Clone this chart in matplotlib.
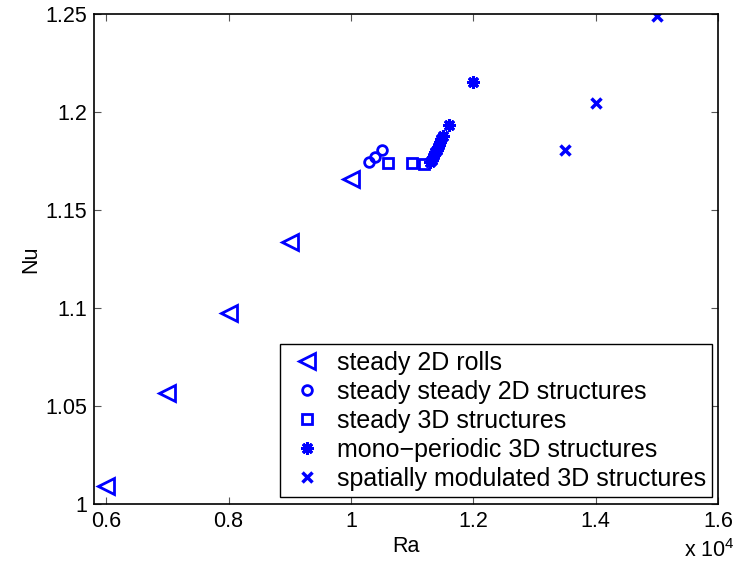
import numpy as np
import matplotlib.pyplot as plt

plt.rcParams['font.family'] = ['Liberation Sans', 'DejaVu Sans']
plt.rcParams['mathtext.fontset'] = 'custom'
plt.rcParams['mathtext.rm'] = 'Liberation Sans'

# Nusselt number vs Rayleigh number for each flow regime
ra_rolls = [6000, 7000, 8000, 9000, 10000]
nu_rolls = [1.009, 1.0565, 1.0976, 1.1335, 1.1657]

ra_2d = [10300, 10400, 10500]
nu_2d = [1.1746, 1.1772, 1.1806]

ra_3d = [10600, 11000, 11200]
nu_3d = [1.1741, 1.1741, 1.1733]

ra_mono = [11300, 11320, 11340, 11360, 11380, 11400, 11420, 11440, 11460, 11480, 11500, 11600, 12000]
nu_mono = [1.1745, 1.1757, 1.1769, 1.1781, 1.1794, 1.1807, 1.1820, 1.1834, 1.1848, 1.1862, 1.1876, 1.1934, 1.2155]

ra_mod = [13500, 14000, 15000]
nu_mod = [1.1806, 1.2047, 1.2490]

labels = ['steady 2D rolls', 'steady steady 2D structures', 'steady 3D structures',
          'mono\u2212periodic 3D structures', 'spatially modulated 3D structures']

blue = '#0000ff'
scale = 1e4

fig = plt.figure(figsize=(7.38, 5.75), dpi=100)
ax = fig.add_axes([0.1274, 0.1235, 0.8455, 0.8522])

ax.plot(np.array(ra_rolls) / scale, nu_rolls, '<', color=blue, mfc='none', ms=11, mew=2, label=labels[0])
ax.plot(np.array(ra_2d) / scale, nu_2d, 'o', color=blue, mfc='none', ms=7, mew=2, label=labels[1])
ax.plot(np.array(ra_3d) / scale, nu_3d, 's', color=blue, mfc='none', ms=6.5, mew=2, label=labels[2])
ax.plot(np.array(ra_mono) / scale, nu_mono, ls='none', marker=(8, 2, 0), color=blue, ms=9, mew=2.2, label=labels[3])
ax.plot(np.array(ra_mod) / scale, nu_mod, 'x', color=blue, ms=7, mew=2.5, label=labels[4])

ax.set_xlim(0.58, 1.6)
ax.set_ylim(1.0, 1.25)
ax.set_xticks([0.6, 0.8, 1.0, 1.2, 1.4, 1.6])
ax.set_xticklabels(['0.6', '0.8', '1', '1.2', '1.4', '1.6'])
ax.set_yticks([1.0, 1.05, 1.1, 1.15, 1.2, 1.25])
ax.set_yticklabels(['1', '1.05', '1.1', '1.15', '1.2', '1.25'])
ax.tick_params(direction='in', top=True, right=True, length=5, width=0.8,
               labelsize=15.5, pad=5, color='#555555')
for s in ax.spines.values():
    s.set_linewidth(1.2)

ax.set_xlabel('Ra', fontsize=15.5, labelpad=3)
ax.set_ylabel('Nu', fontsize=15.5, labelpad=3)
fig.text(0.996, 0.031, r'x 10$^{4}$', ha='right', va='baseline', fontsize=15.5)

leg = ax.legend(loc='lower right', bbox_to_anchor=(0.9905, 0.0145), fontsize=18,
                fancybox=False, framealpha=1, edgecolor='black', borderpad=0.25,
                labelspacing=0.2, handlelength=1.6, handletextpad=0.4, borderaxespad=0)
leg.get_frame().set_linewidth(1.0)

fig.savefig('out.png', dpi=100)
